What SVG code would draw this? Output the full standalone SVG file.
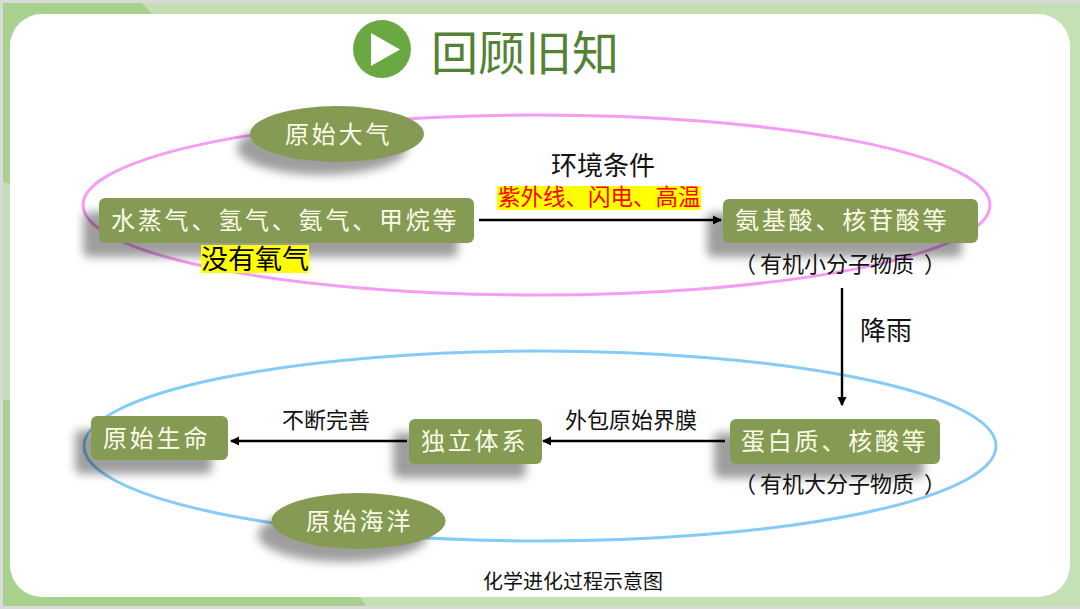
<svg xmlns="http://www.w3.org/2000/svg" width="1080" height="609" viewBox="0 0 1080 609">
<defs>
<filter id="sh" x="-20%" y="-30%" width="140%" height="170%"><feGaussianBlur stdDeviation="5"/></filter>
<marker id="ah" viewBox="0 0 8 8" refX="7" refY="4" markerWidth="3.800" markerHeight="3.800" orient="auto"><path d="M0 0L8 4L0 8Z" fill="#000"/></marker>
</defs>
<style>
text{font-family:"Noto Sans CJK SC","Noto Sans",sans-serif}
.box{fill:#859b54}
.shadow{fill:#000;fill-opacity:.38;filter:url(#sh)}
.nt{fill:#fbfbe8;font-size:24px;letter-spacing:2.8px}
.lk{fill:none;stroke:#000;stroke-width:2.400;marker-end:url(#ah)}
.k{fill:#111}
</style>
<rect width="1080" height="609" fill="#d9d9d9"/>
<rect x="3" y="3" width="1077" height="603" fill="#c5e0b4"/>
<path d="M3 3H142L152 14H40L10 40V184L3 182Z" fill="#a9d18e"/>
<path d="M3 606V400H10V560L40 597H360L366 606Z" fill="#a9d18e"/>
<rect x="10" y="14" width="1060" height="583" rx="32" fill="#fff"/>
<g id="ring-atmosphere"><ellipse cx="536.500" cy="205" rx="453.500" ry="90" fill="none" stroke="#f59cf5" stroke-width="3"/></g>
<g id="ring-ocean"><ellipse cx="540" cy="446" rx="456" ry="95" fill="none" stroke="#85cbf8" stroke-width="3"/></g>
<g id="title"><circle cx="382" cy="49" r="29" fill="#6aa842"/><path d="M371 33L400 49.500L371 66Z" fill="#fff"/><text x="431" y="70" font-size="47" fill="#548235">回顾旧知</text></g>
<g id="connectors">
<line class="lk" x1="479" y1="220" x2="721" y2="220"/>
<line class="lk" x1="842" y1="288" x2="842" y2="405"/>
<line class="lk" x1="725" y1="441" x2="543" y2="441"/>
<line class="lk" x1="407" y1="441" x2="231" y2="441"/>
</g>
<g id="n-atmosphere"><ellipse class="shadow" cx="322" cy="148" rx="85" ry="27"/><ellipse class="box" cx="337" cy="134" rx="87" ry="28"/><text class="nt" x="285" y="143">原始大气</text></g>
<g id="n-gases"><rect class="shadow" x="83" y="212" width="375" height="45" rx="6"/><rect class="box" x="99" y="198" width="375" height="45" rx="6"/><text class="nt" x="111" y="229">水蒸气、氢气、氨气、甲烷等</text></g>
<g id="n-small"><rect class="shadow" x="707" y="213" width="255" height="44" rx="6"/><rect class="box" x="723" y="199" width="255" height="44" rx="6"/><text class="nt" x="735" y="229">氨基酸、核苷酸等</text></g>
<g id="n-large"><rect class="shadow" x="714" y="433" width="210" height="45" rx="6"/><rect class="box" x="730" y="419" width="210" height="45" rx="6"/><text class="nt" x="741" y="450">蛋白质、核酸等</text></g>
<g id="n-system"><rect class="shadow" x="393" y="433" width="133" height="45" rx="6"/><rect class="box" x="409" y="419" width="133" height="45" rx="6"/><text class="nt" x="421" y="450">独立体系</text></g>
<g id="n-life"><rect class="shadow" x="75" y="430" width="137" height="44" rx="6"/><rect class="box" x="91" y="416" width="137" height="44" rx="6"/><text class="nt" x="103" y="447">原始生命</text></g>
<g id="n-ocean"><ellipse class="shadow" cx="343" cy="535" rx="85" ry="27"/><ellipse class="box" cx="358.500" cy="521" rx="87" ry="28"/><text class="nt" x="306" y="530">原始海洋</text></g>
<g id="labels">
<text class="k" x="551" y="175" font-size="26">环境条件</text>
<rect x="497" y="186" width="204" height="24" fill="#ff0"/>
<text x="498" y="205" font-size="22.500" fill="#f00">紫外线、闪电、高温</text>
<rect x="201" y="245" width="108" height="28" fill="#ff0"/>
<text x="201" y="269" font-size="27" fill="#000">没有氧气</text>
<text class="k" x="734" y="272" font-size="22">（<tspan dx="4">有机小分子物质</tspan><tspan dx="10">）</tspan></text>
<text class="k" x="734" y="492" font-size="22">（<tspan dx="4">有机大分子物质</tspan><tspan dx="10">）</tspan></text>
<text class="k" x="860" y="340" font-size="26">降雨</text>
<text class="k" x="282" y="428" font-size="22">不断完善</text>
<text class="k" x="565" y="428" font-size="22">外包原始界膜</text>
<text class="k" x="483" y="589" font-size="20">化学进化过程示意图</text>
</g>
</svg>
